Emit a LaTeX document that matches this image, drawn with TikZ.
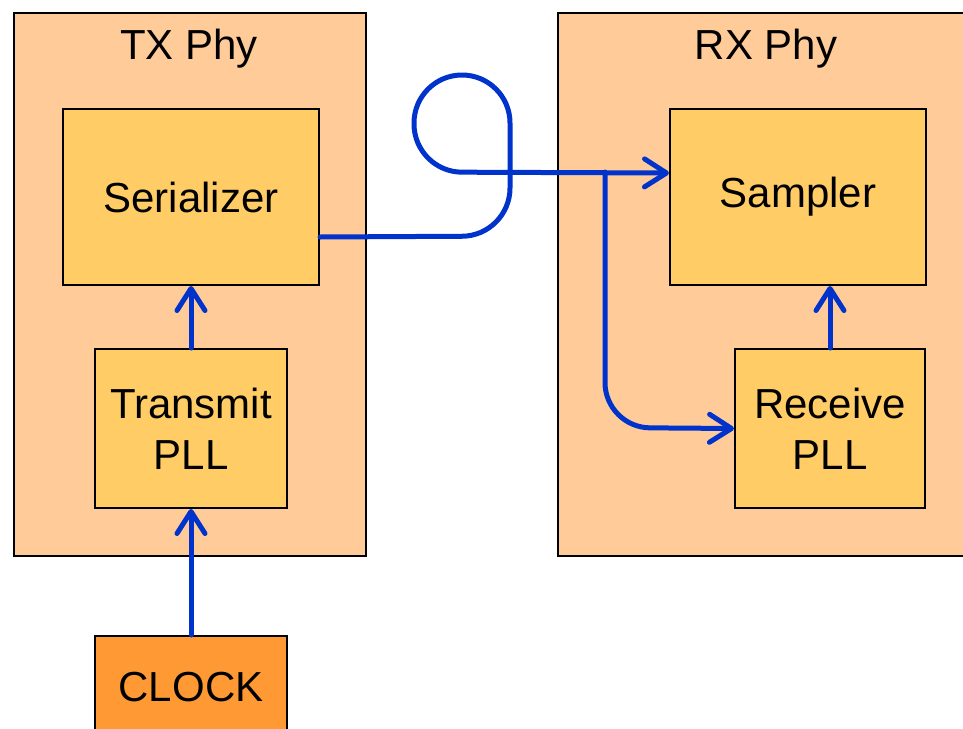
\documentclass[tikz,border=0pt]{standalone}
\usepackage{fontspec}
\setmainfont{Liberation Sans}
\usetikzlibrary{arrows.meta}
\definecolor{outerfill}{HTML}{FFCC99}
\definecolor{innerfill}{HTML}{FFCC66}
\definecolor{clockfill}{HTML}{FF9933}
\definecolor{wireblue}{HTML}{0033CC}
\tikzset{
  phybox/.style={draw=black, line width=2pt, fill=outerfill, anchor=north west, inner sep=0pt},
  blockbox/.style={draw=black, line width=2pt, fill=innerfill, anchor=north west, inner sep=0pt, align=center, font=\fontsize{42}{51}\selectfont},
  clockbox/.style={blockbox, fill=clockfill},
  lbl/.style={font=\fontsize{42}{51}\selectfont, inner sep=0pt},
  wire/.style={draw=wireblue, line width=5pt, line cap=round, line join=round},
  tip/.style={-{Straight Barb[length=22pt, width=28pt, line cap=round, line join=round]}}
}
\begin{document}
\begin{tikzpicture}[x=1pt, y=-1pt]
\fill[white] (0,0) rectangle (963,728);
\clip (0,0) rectangle (963,728);
\useasboundingbox (0,0) rectangle (963,728);
% outer boxes
\node[phybox, minimum width=352pt, minimum height=543pt] (tx) at (13,12) {};
\node[phybox, minimum width=460pt, minimum height=543pt] (rx) at (557,12) {};
\node[lbl] (txlbl) at (189,49) {TX Phy};
\node[lbl] (rxlbl) at (766,49) {RX Phy};
% inner blocks
\node[blockbox, minimum width=256pt, minimum height=176pt] (ser) at (62,108) {Serializer};
\node[blockbox, minimum width=192pt, minimum height=159pt] (tpll) at (94,348) {Transmit\\PLL};
\node[clockbox, minimum width=192pt, minimum height=102pt] (clock) at (94,635) {CLOCK};
\node[blockbox, minimum width=256pt, minimum height=176pt] (samp) at (669,108) {Sampler};
\node[blockbox, minimum width=190pt, minimum height=159pt] (rpll) at (734,348) {Receive\\PLL};
% connectors
\draw[wire, tip] (clock.north) -- (tpll.south);
\draw[wire, tip] (tpll.north) -- (ser.south);
\draw[wire, tip] (rpll.north) -- (rpll.north |- samp.south);
\draw[wire, tip, rounded corners=48pt] ([yshift=-40pt]ser.east) -- (510,236) -- (510,75) -- (414,75) -- (414,172) -- ([yshift=24pt]samp.west);
\coordinate (split) at (605,172);
\draw[wire, tip, rounded corners=45pt] (split) -- (605,427.5) -- (rpll.west);
\end{tikzpicture}
\end{document}
